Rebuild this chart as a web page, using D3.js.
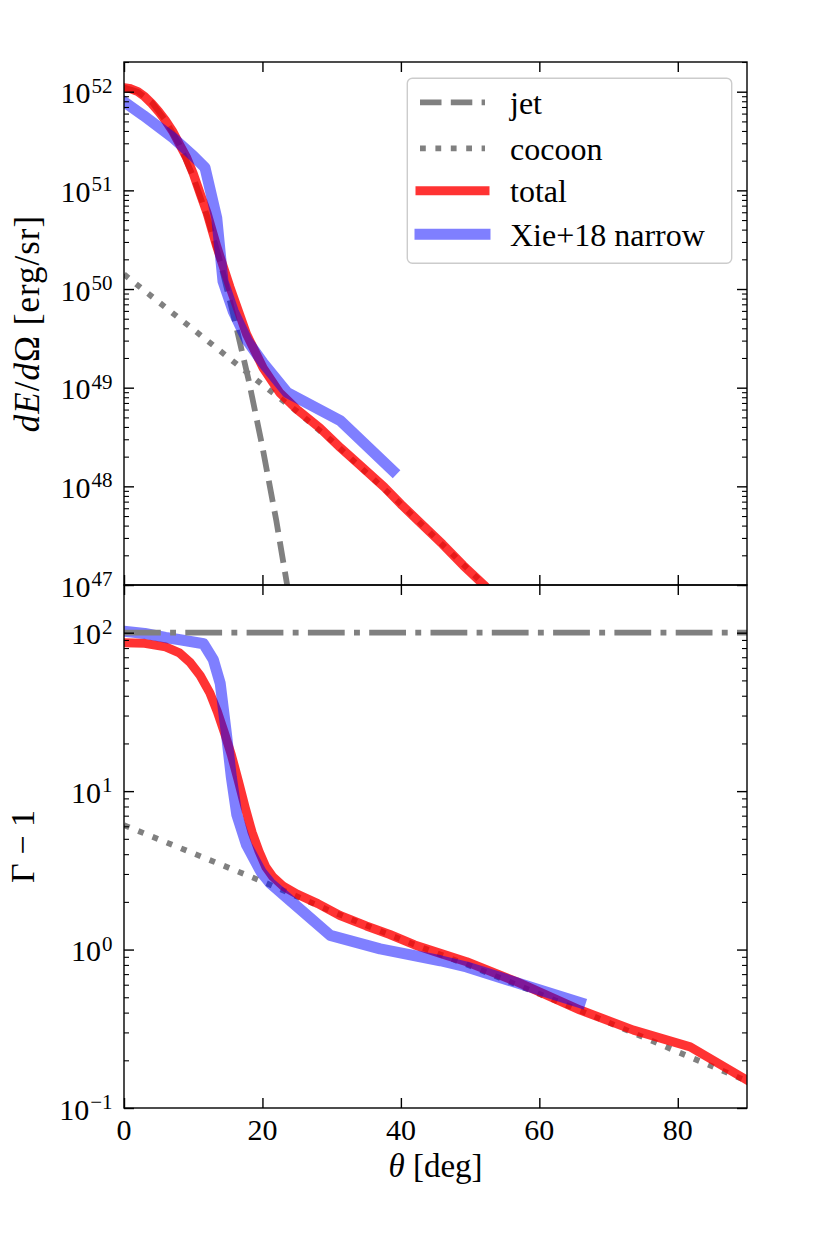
<!DOCTYPE html>
<html><head><meta charset="utf-8">
<script src="https://cdn.jsdelivr.net/npm/d3@7"></script>
<style>
body{margin:0;background:#fff}
svg{display:block}
text{font-family:"Liberation Serif","Times New Roman",serif;fill:#000}
</style>
</head><body>
<svg id="chart" width="830" height="1246"></svg>
<script>
// ---------------- data ----------------
// top panel: dE/dOmega [erg/sr] vs theta [deg]
const thetaJet = [0, 2, 4, 6, 8, 10, 12, 14, 16, 18, 20, 22, 24];
const jetEnergy = [1.10e52, 1.0e52, 7.8e51, 5.1e51, 2.9e51, 1.38e51, 5.5e50, 1.78e50, 4.8e49, 1.2e49, 2.5e48, 4.5e47, 6.6e46];
const thetaCocoonE = [0, 5, 10, 15, 20, 25, 30, 35, 40, 45, 50, 55, 60];
const cocoonEnergy = [1.41e50, 7.4e49, 3.9e49, 2.04e49, 1.07e49, 5.75e48, 2.9e48, 1.38e48, 6.6e47, 3.0e47, 1.38e47, 6.3e46, 2.8e46];
const thetaTotalE = [0, 1, 2, 3, 4, 5, 6, 7, 8, 9, 10, 11, 12, 13.4, 15.3, 17.7, 20.1, 22.5, 25, 28.3, 31.3, 34, 37.6, 40, 42.9, 46, 49, 52, 56];
const totalEnergy = [1.10e52, 1.07e52, 1.0e52, 8.9e51, 7.6e51, 6.3e51, 5.1e51, 4.0e51, 2.95e51, 2.19e51, 1.48e51, 9.3e50, 5.9e50, 2.7e50, 1.05e50, 3.5e49, 1.58e49, 8.9e48, 6.0e48, 3.9e48, 2.45e48, 1.66e48, 9.8e47, 6.6e47, 4.2e47, 2.6e47, 1.58e47, 1.0e47, 5.2e46];
const thetaXieE = [0, 2.8, 7.1, 10, 11.7, 13.4, 14.3, 15.8, 17.8, 20.1, 23.6, 31.3, 38.8];
const xieEnergy = [7.9e51, 5.75e51, 3.4e51, 2.24e51, 1.7e51, 5.25e50, 1.2e50, 5.9e49, 3.0e49, 1.78e49, 8.9e48, 4.6e48, 1.45e48];

// bottom panel: Gamma - 1 vs theta [deg]
const thetaGamma0 = [0, 90];
const gamma0 = [100, 100];
const thetaCocoonG = [0, 10, 20, 30, 40, 50, 60, 70, 80, 90];
const cocoonGamma = [6.1, 4.05, 2.69, 1.74, 1.16, 0.79, 0.525, 0.347, 0.226, 0.148];
const thetaTotalG = [0, 3, 6, 8, 9.5, 11, 12.4, 13.5, 14.5, 15.5, 16.5, 17.5, 18.5, 19.5, 20.5, 21.5, 23, 25, 28, 31.2, 35, 38.4, 42, 45.7, 49.5, 56.7, 65.9, 73.6, 81.8, 90];
const totalGamma = [86.5, 85.7, 81.3, 74.5, 65.3, 53.7, 41.7, 31.6, 23.4, 17.0, 11.7, 7.9, 5.5, 4.17, 3.31, 2.88, 2.51, 2.24, 1.95, 1.64, 1.41, 1.245, 1.07, 0.946, 0.838, 0.627, 0.415, 0.31, 0.243, 0.15];
const thetaXieG = [0, 3, 6, 8.1, 11.5, 12.9, 13.9, 14.8, 15.5, 16.3, 17.7, 19.8, 21.1, 24, 29.8, 37, 45.7, 49.5, 65.9];
const xieGamma = [102, 98.9, 93.3, 90.2, 85.1, 67.6, 47.9, 22.9, 12.3, 7.08, 4.57, 3.09, 2.63, 2.04, 1.23, 1.01, 0.85, 0.776, 0.462];

// ticks and labels
const xTicks = [0, 20, 40, 60, 80];
const xTickLabels = ["0", "20", "40", "60", "80"];
const energyExponents = [47, 48, 49, 50, 51, 52];
const gammaExponents = [-1, 0, 1, 2];
const legendLabels = ["jet", "cocoon", "total", "Xie+18 narrow"];

// ---------------- layout ----------------
const L = 124, R = 747, T1 = 62, M = 585, B2 = 1108;
const svg = d3.select("#chart");

const x = d3.scaleLinear().domain([0, 90]).range([L, R]);
const yE = d3.scaleLog().domain([1e47, 2e52]).range([M, T1]);
const yG = d3.scaleLog().domain([0.1, 200]).range([B2, M]);

const GRAY = "#808080";
const styles = {
  jet:    {stroke: GRAY, w: 5.8, dash: "21.5,9.3", cap: "butt", op: 1},
  cocoon: {stroke: GRAY, w: 5.8, dash: "5.8,9.6", cap: "butt", op: 1},
  total:  {stroke: "#ff0000", w: 9, dash: null, cap: "square", op: 0.8},
  xie:    {stroke: "#0000ff", w: 11, dash: null, cap: "square", op: 0.5},
  g0:     {stroke: GRAY, w: 5.8, dash: "36.8,9.3,5.9,9.3", cap: "butt", op: 1}
};

const defs = svg.append("defs");
defs.append("clipPath").attr("id", "clipTop").append("rect")
  .attr("x", L).attr("y", T1).attr("width", R - L).attr("height", M - T1);
defs.append("clipPath").attr("id", "clipBot").append("rect")
  .attr("x", L).attr("y", M).attr("width", R - L).attr("height", B2 - M);

function drawSeries(g, xs, ys, yScale, st) {
  const pts = xs.map((t, i) => [t, ys[i]]);
  const line = d3.line().x(d => x(d[0])).y(d => yScale(d[1]));
  g.append("path").datum(pts).attr("d", line)
    .attr("fill", "none").attr("stroke", st.stroke).attr("stroke-width", st.w)
    .attr("stroke-opacity", st.op).attr("stroke-linecap", st.cap)
    .attr("stroke-linejoin", "round")
    .attr("stroke-dasharray", st.dash);
}

// top panel series
const gTop = svg.append("g").attr("clip-path", "url(#clipTop)");
drawSeries(gTop, thetaJet, jetEnergy, yE, styles.jet);
drawSeries(gTop, thetaCocoonE, cocoonEnergy, yE, styles.cocoon);
drawSeries(gTop, thetaTotalE, totalEnergy, yE, styles.total);
drawSeries(gTop, thetaXieE, xieEnergy, yE, styles.xie);

// bottom panel series
const gBot = svg.append("g").attr("clip-path", "url(#clipBot)");
drawSeries(gBot, thetaCocoonG, cocoonGamma, yG, styles.cocoon);
drawSeries(gBot, thetaTotalG, totalGamma, yG, styles.total);
drawSeries(gBot, thetaXieG, xieGamma, yG, styles.xie);
drawSeries(gBot, thetaGamma0, gamma0, yG, styles.g0);

// ---------------- axes ----------------
function styleAxis(g, w) {
  g.select(".domain").remove();
  g.selectAll(".tick line").attr("stroke", "#000").attr("stroke-width", w);
  g.selectAll(".tick text").remove();
}
function isPow10(v) { const l = Math.log10(v); return Math.abs(l - Math.round(l)) < 1e-9; }

function yAxes(scale) {
  const majors = scale.ticks().filter(isPow10);
  const minors = scale.ticks().filter(v => !isPow10(v));
  svg.append("g").attr("transform", `translate(${L},0)`)
    .call(d3.axisLeft(scale).tickValues(majors).tickSizeInner(-10).tickSizeOuter(0)).call(g => styleAxis(g, 1.4));
  svg.append("g").attr("transform", `translate(${L},0)`)
    .call(d3.axisLeft(scale).tickValues(minors).tickSizeInner(-5).tickSizeOuter(0)).call(g => styleAxis(g, 1.1));
  svg.append("g").attr("transform", `translate(${R},0)`)
    .call(d3.axisRight(scale).tickValues(majors).tickSizeInner(-10).tickSizeOuter(0)).call(g => styleAxis(g, 1.4));
  svg.append("g").attr("transform", `translate(${R},0)`)
    .call(d3.axisRight(scale).tickValues(minors).tickSizeInner(-5).tickSizeOuter(0)).call(g => styleAxis(g, 1.1));
}
yAxes(yE);
yAxes(yG);

function xAxisAt(yPos, dir) {
  const ax = dir === "up" ? d3.axisBottom(x) : d3.axisTop(x);
  svg.append("g").attr("transform", `translate(0,${yPos})`)
    .call(ax.tickValues(xTicks).tickSizeInner(-10).tickSizeOuter(0)).call(g => styleAxis(g, 1.4));
}
xAxisAt(T1, "down");
xAxisAt(M, "up");
xAxisAt(M, "down");
xAxisAt(B2, "up");

// spines
[[T1, M], [M, B2]].forEach(([a, b]) => {
  svg.append("rect").attr("x", L).attr("y", a).attr("width", R - L).attr("height", b - a)
    .attr("fill", "none").attr("stroke", "#000").attr("stroke-width", 1.4);
});

// y tick labels (10^n)
function powLabels(scale, exps) {
  exps.forEach(e => {
    const yy = scale(Math.pow(10, e));
    const t = svg.append("text").attr("x", 112.5).attr("y", yy + 11.5).attr("text-anchor", "end");
    t.append("tspan").attr("font-size", 30).text("10");
    t.append("tspan").attr("font-size", 21).attr("dx", 1).attr("dy", -10.5)
      .text(e < 0 ? "\u2212" + Math.abs(e) : String(e));
  });
}
powLabels(yE, energyExponents);
powLabels(yG, gammaExponents);

// x tick labels
xTicks.forEach((t, i) => {
  svg.append("text").attr("x", x(t)).attr("y", 1140).attr("text-anchor", "middle")
    .attr("font-size", 30).text(xTickLabels[i]);
});

// axis labels
const xl = svg.append("text").attr("x", (L + R) / 2).attr("y", 1177).attr("text-anchor", "middle").attr("font-size", 33);
xl.append("tspan").attr("font-style", "italic").text("\u03B8");
xl.append("tspan").text(" [deg]");

const yl1 = svg.append("text").attr("transform", `translate(39,${(T1 + M) / 2}) rotate(-90)`)
  .attr("text-anchor", "middle").attr("font-size", 35).attr("letter-spacing", 1);
yl1.append("tspan").attr("font-style", "italic").text("dE");
yl1.append("tspan").text("/");
yl1.append("tspan").attr("font-style", "italic").text("d");
yl1.append("tspan").text("\u03A9 [erg/sr]");

const yl2 = svg.append("text").attr("transform", `translate(33.5,${(M + B2) / 2}) rotate(-90)`)
  .attr("text-anchor", "middle").attr("font-size", 34);
yl2.append("tspan").text("\u0393 \u2212 1");

// ---------------- legend ----------------
const leg = svg.append("g");
leg.append("rect").attr("x", 407.3).attr("y", 78.3).attr("width", 324.4).attr("height", 185)
  .attr("rx", 5).attr("ry", 5).attr("fill", "#fff").attr("fill-opacity", 0.8)
  .attr("stroke", "#cccccc").attr("stroke-width", 1.4);
const legStyles = [styles.jet, styles.cocoon, styles.total, styles.xie];
const legY = [102.3, 148.3, 190.7, 234.3];
legendLabels.forEach((lab, i) => {
  const st = legStyles[i];
  leg.append("line").attr("x1", 420).attr("x2", 485).attr("y1", legY[i]).attr("y2", legY[i])
    .attr("stroke", st.stroke).attr("stroke-width", st.w).attr("stroke-opacity", st.op)
    .attr("stroke-linecap", st.cap).attr("stroke-dasharray", st.dash);
  leg.append("text").attr("x", 510).attr("y", legY[i] + 11.2).attr("font-size", 32).text(lab);
});
</script>
</body></html>
